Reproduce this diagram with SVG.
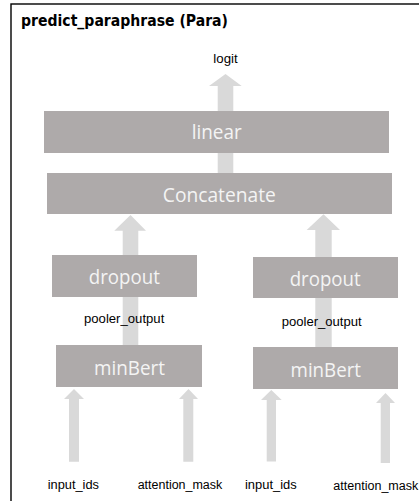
<svg xmlns="http://www.w3.org/2000/svg" width="419" height="501" viewBox="0 0 419 501">
  <style>
    .frame { fill: #ffffff; stroke: #000000; stroke-width: 1.4; }
    .title { font-family: "DejaVu Sans", "Liberation Sans", sans-serif; font-weight: bold; font-size: 15px; fill: #000000; }
    .box { fill: #aeaaaa; }
    .box-label { font-family: "Open Sans", "DejaVu Sans", sans-serif; font-size: 20px; fill: #f4f4f4; text-anchor: middle; }
    .arrow { fill: #d9d9d9; }
    .label { font-family: "Liberation Sans", "DejaVu Sans", sans-serif; font-size: 12.5px; fill: #000000; }
  </style>

  <rect width="419" height="501" fill="#ffffff"/>
  <!-- outer frame (right and bottom edges run off the canvas) -->
  <rect class="frame" x="11" y="4" width="420" height="510"/>
  <text class="title" x="21" y="26" textLength="207" lengthAdjust="spacingAndGlyphs">predict_paraphrase (Para)</text>

  <!-- block arrows, drawn beneath the boxes -->
  <g id="connectors">
    <!-- linear -> logit -->
    <polygon class="arrow" points="217.7,111 217.7,86 209,86 225.5,74 241.7,86 233.3,86 233.3,111"/>
    <!-- Concatenate -> linear -->
    <polygon class="arrow" points="217.7,174 217.7,140 209,140 225.5,128 241.7,140 233.3,140 233.3,174"/>
    <!-- left branch -> Concatenate -->
    <polygon class="arrow" points="122.7,346 122.7,230.7 114.3,230.7 130.5,215 146,230.7 138.3,230.7 138.3,346"/>
    <!-- right branch -> Concatenate -->
    <polygon class="arrow" points="315.3,348 315.3,230 306.7,230 323.5,214.3 340,230 331.7,230 331.7,348"/>
    <!-- inputs -> left minBert -->
    <polygon class="arrow" points="69,461.7 69,399 64,399 74,389 84,399 79,399 79,461.7"/>
    <polygon class="arrow" points="183.3,461.7 183.3,399 179,399 188.5,389 198,399 193.3,399 193.3,461.7"/>
    <!-- inputs -> right minBert -->
    <polygon class="arrow" points="266.7,461.5 266.7,400 261,400 271.3,390 281.7,400 276,400 276,461.5"/>
    <polygon class="arrow" points="380.7,463 380.7,403 376,403 385.5,393 395,403 390,403 390,463"/>
  </g>

  <g id="linear">
    <rect class="box" x="44" y="111" width="345" height="42"/>
    <text class="box-label" x="216.7" y="139.3" textLength="50" lengthAdjust="spacingAndGlyphs">linear</text>
  </g>
  <g id="concatenate">
    <rect class="box" x="47" y="173" width="345" height="41"/>
    <text class="box-label" x="219.3" y="201.7" textLength="113" lengthAdjust="spacingAndGlyphs">Concatenate</text>
  </g>
  <g id="dropout-left">
    <rect class="box" x="52" y="255" width="145" height="42"/>
    <text class="box-label" x="124.3" y="284" textLength="71" lengthAdjust="spacingAndGlyphs">dropout</text>
  </g>
  <g id="dropout-right">
    <rect class="box" x="253" y="257" width="145" height="41"/>
    <text class="box-label" x="325.2" y="285.7" textLength="71" lengthAdjust="spacingAndGlyphs">dropout</text>
  </g>
  <g id="minbert-left">
    <rect class="box" x="56" y="345" width="146" height="42"/>
    <text class="box-label" x="129.5" y="375" textLength="71" lengthAdjust="spacingAndGlyphs">minBert</text>
  </g>
  <g id="minbert-right">
    <rect class="box" x="253" y="347" width="145" height="42"/>
    <text class="box-label" x="325.8" y="376.7" textLength="70.5" lengthAdjust="spacingAndGlyphs">minBert</text>
  </g>

  <g id="labels">
    <text class="label" x="213.3" y="63.3" textLength="24.4" lengthAdjust="spacingAndGlyphs">logit</text>
    <text class="label" x="84" y="322.7" textLength="80.3" lengthAdjust="spacingAndGlyphs">pooler_output</text>
    <text class="label" x="281.7" y="326" textLength="80" lengthAdjust="spacingAndGlyphs">pooler_output</text>
    <text class="label" x="47.7" y="489" textLength="51.3" lengthAdjust="spacingAndGlyphs">input_ids</text>
    <text class="label" x="137.7" y="489" textLength="84.6" lengthAdjust="spacingAndGlyphs">attention_mask</text>
    <text class="label" x="245" y="489" textLength="51.7" lengthAdjust="spacingAndGlyphs">input_ids</text>
    <text class="label" x="333.3" y="490" textLength="85" lengthAdjust="spacingAndGlyphs">attention_mask</text>
  </g>
</svg>
